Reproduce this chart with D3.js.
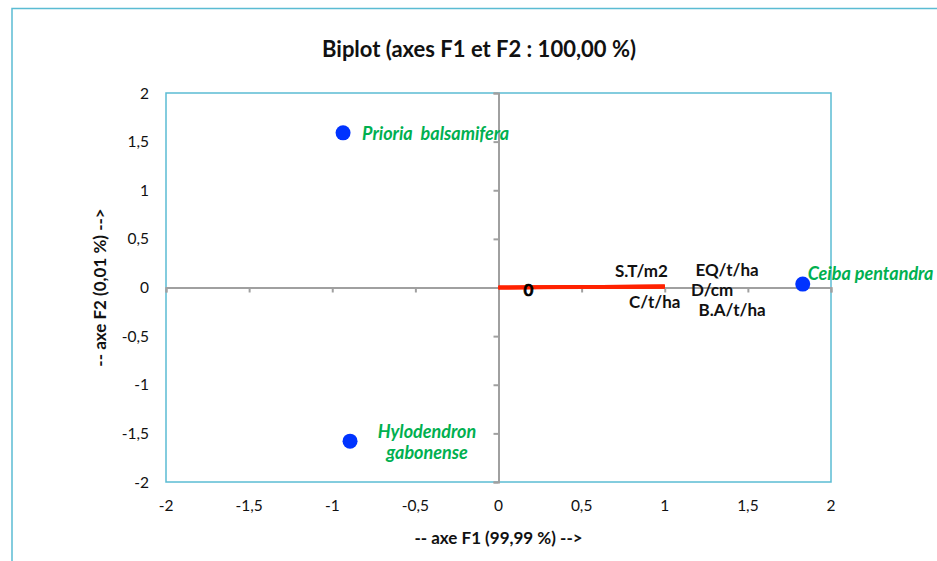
<!DOCTYPE html>
<html lang="fr">
<head>
  <meta charset="UTF-8" />
  <title>Biplot F1 F2</title>
  <script src="https://d3js.org/d3.v7.min.js"></script>
  <style>
    body {
      margin: 0;
      background: #fff;
      font-family: Lato, "Open Sans", sans-serif;
    }
  </style>
</head>
<body>
  <div id="chart"></div>

  <script>
    // observations (species)
    const species = ["Prioria  balsamifera", "Hylodendron gabonense", "Ceiba pentandra"];
    const speciesF1 = [-0.935, -0.893, 1.83];
    const speciesF2 = [1.59, -1.58, 0.035];

    // variables (vectors) and where their labels sit
    const variables = ["S.T/m2", "C/t/ha", "EQ/t/ha", "D/cm", "B.A/t/ha"];
    const varF1 = [1.0, 1.0, 1.0, 1.0, 1.0];
    const varF2 = [0.012, 0.01, 0.014, 0.008, 0.006];
    const varLabelF1 = [0.86, 0.94, 1.375, 1.285, 1.405];
    const varLabelF2 = [0.17, -0.15, 0.175, -0.03, -0.23];

    const ticks = [-2, -1.5, -1, -0.5, 0, 0.5, 1, 1.5, 2];
    const fmt = d => String(d).replace(".", ",");

    const width = 937;
    const height = 561;
    const plot = { left: 166, top: 93, right: 831, bottom: 482 };
    const frameColor = "#5bbcd3";

    const svg = d3.select("#chart")
      .append("svg")
      .attr("width", width)
      .attr("height", height);

    // outer chart frame (runs off the picture to the right and bottom)
    svg.append("rect")
      .attr("x", 12).attr("y", 8.5)
      .attr("width", 960).attr("height", 600)
      .attr("fill", "none")
      .attr("stroke", frameColor)
      .attr("stroke-width", 1.5);

    svg.append("text")
      .attr("x", 479).attr("y", 57)
      .attr("text-anchor", "middle")
      .attr("font-size", 22)
      .attr("font-weight", "bold")
      .attr("fill", "#111")
      .text("Biplot (axes F1 et F2 : 100,00 %)");

    const x = d3.scaleLinear().domain([-2, 2]).range([plot.left, plot.right]);
    const y = d3.scaleLinear().domain([-2, 2]).range([plot.bottom, plot.top]);

    svg.append("rect")
      .attr("x", plot.left).attr("y", plot.top)
      .attr("width", plot.right - plot.left)
      .attr("height", plot.bottom - plot.top)
      .attr("fill", "none")
      .attr("stroke", frameColor)
      .attr("stroke-width", 1.5);

    // axes through origin
    const xAxis = svg.append("g")
      .attr("transform", `translate(0,${y(0)})`)
      .call(d3.axisBottom(x).tickValues(ticks).tickSize(5).tickFormat(""));
    const yAxis = svg.append("g")
      .attr("transform", `translate(${x(0)},0)`)
      .call(d3.axisLeft(y).tickValues(ticks).tickSize(5).tickFormat(""));
    [xAxis, yAxis].forEach(g => {
      g.select(".domain").attr("stroke", "#a0a0a0").attr("stroke-width", 2);
      g.selectAll(".tick line").attr("stroke", "#a0a0a0").attr("stroke-width", 2);
    });

    // tick labels on the frame
    svg.append("g").selectAll("text")
      .data(ticks)
      .join("text")
      .attr("x", d => x(d))
      .attr("y", 511)
      .attr("text-anchor", "middle")
      .attr("font-size", 15.5)
      .attr("fill", "#111")
      .text(fmt);

    svg.append("g").selectAll("text")
      .data(ticks)
      .join("text")
      .attr("x", 149)
      .attr("y", d => y(d) + 5.5)
      .attr("text-anchor", "end")
      .attr("font-size", 15.5)
      .attr("fill", "#111")
      .text(fmt);

    svg.append("text")
      .attr("x", x(0))
      .attr("y", 544)
      .attr("text-anchor", "middle")
      .attr("font-size", 17)
      .attr("font-weight", "bold")
      .attr("fill", "#111")
      .text("-- axe F1 (99,99 %) -->");

    svg.append("text")
      .attr("transform", `translate(106,${y(0)}) rotate(-90)`)
      .attr("text-anchor", "middle")
      .attr("font-size", 17)
      .attr("font-weight", "bold")
      .attr("fill", "#111")
      .text("-- axe F2 (0,01 %) -->");

    // variable vectors
    svg.append("g").selectAll("line")
      .data(variables)
      .join("line")
      .attr("x1", x(0)).attr("y1", y(0))
      .attr("x2", (d, i) => x(varF1[i]))
      .attr("y2", (d, i) => y(varF2[i]))
      .attr("stroke", "#ff2200")
      .attr("stroke-width", 3.5);

    svg.append("text")
      .attr("x", x(0.18))
      .attr("y", y(0) + 8)
      .attr("text-anchor", "middle")
      .attr("font-size", 17)
      .attr("font-weight", "bold")
      .attr("stroke", "#000")
      .attr("stroke-width", 0.6)
      .attr("fill", "#000")
      .text("0");

    svg.append("g").selectAll("text")
      .data(variables)
      .join("text")
      .attr("x", (d, i) => x(varLabelF1[i]))
      .attr("y", (d, i) => y(varLabelF2[i]) + 6)
      .attr("text-anchor", "middle")
      .attr("font-size", 17)
      .attr("font-weight", "bold")
      .attr("fill", "#111")
      .text(d => d);

    // species points
    svg.append("g").selectAll("circle")
      .data(species)
      .join("circle")
      .attr("cx", (d, i) => x(speciesF1[i]))
      .attr("cy", (d, i) => y(speciesF2[i]))
      .attr("r", 7.5)
      .attr("fill", "#0033ff");

    const green = "#00b050";
    const lbl = svg.append("g")
      .attr("font-size", 18)
      .attr("font-weight", "bold")
      .attr("font-style", "italic")
      .attr("fill", green);

    lbl.append("text")
      .attr("x", x(speciesF1[0]) + 19)
      .attr("y", y(speciesF2[0]) + 7)
      .attr("xml:space", "preserve")
      .text(species[0]);

    const hy = lbl.append("text")
      .attr("text-anchor", "middle")
      .attr("x", x(speciesF1[1]) + 77)
      .attr("y", y(speciesF2[1]) - 3);
    hy.append("tspan").text("Hylodendron");
    hy.append("tspan")
      .attr("x", x(speciesF1[1]) + 77)
      .attr("dy", 21)
      .text("gabonense");

    lbl.append("text")
      .attr("x", x(speciesF1[2]) + 5)
      .attr("y", y(speciesF2[2]) - 4)
      .text(species[2]);
  </script>
</body>
</html>
